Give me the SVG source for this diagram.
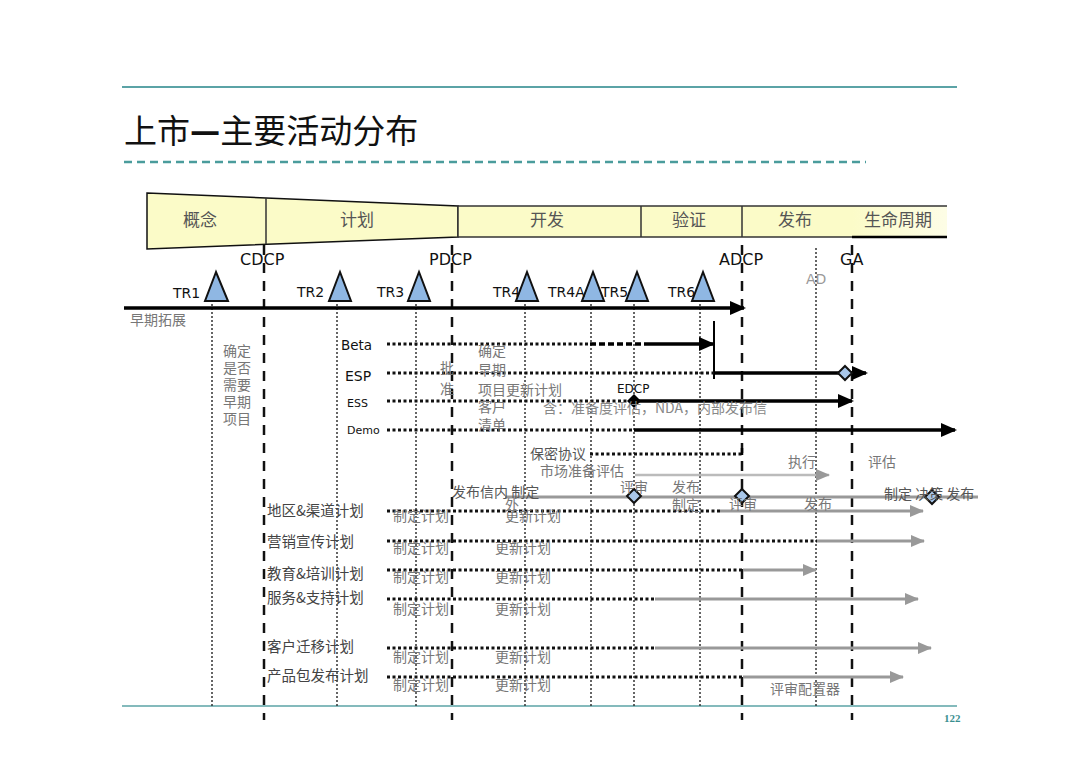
<svg xmlns="http://www.w3.org/2000/svg" width="1080" height="761" viewBox="0 0 1080 761">
<defs>
<marker id="ab" markerUnits="userSpaceOnUse" markerWidth="16" markerHeight="14" refX="14" refY="7" orient="auto"><path d="M0,0 L16,7 L0,14 z" fill="#000"/></marker>
<marker id="ag" markerUnits="userSpaceOnUse" markerWidth="14" markerHeight="12" refX="13" refY="6" orient="auto"><path d="M0,0 L14,6 L0,12 z" fill="#999"/></marker>
<linearGradient id="fade" x1="0" x2="1" y1="0" y2="0"><stop offset="0" stop-color="#fbfbc8"/><stop offset="1" stop-color="#fdfde6"/></linearGradient>
</defs>
<style>
.cn{font-family:"Noto Sans CJK SC","Liberation Serif",serif;}
.lat{font-family:"DejaVu Sans","Noto Sans",sans-serif;}
.ph{font-size:17px;fill:#555;}
.g{fill:#777;font-size:14px;}
.d{fill:#444;font-size:14.5px;}
.dot{stroke:#333;stroke-width:1.5;stroke-dasharray:2 2;fill:none;}
.dash{stroke:#111;stroke-width:2.5;stroke-dasharray:10 8;fill:none;}
.tdot{stroke:#111;stroke-width:3;stroke-dasharray:3 2.5;fill:none;}
.sol{stroke:#000;stroke-width:3.5;fill:none;}
.gl{stroke:#999;stroke-width:3;fill:none;}
.tri{fill:#8fb7e3;stroke:#111;stroke-width:2;}
.dia{fill:#a9c7ea;stroke:#111;stroke-width:2;}
</style>
<rect width="1080" height="761" fill="#fff"/>

<!-- header -->
<line x1="122" y1="87" x2="957" y2="87" stroke="#5ba3a6" stroke-width="2"/>
<text x="124" y="143" class="cn" font-size="33" fill="#111">上市<tspan font-weight="900">—</tspan>主要活动分布</text>
<line x1="124" y1="162" x2="866" y2="162" stroke="#4a9c9c" stroke-width="2.5" stroke-dasharray="8 5"/>
<line x1="122" y1="706" x2="957" y2="706" stroke="#5ba3a6" stroke-width="1.5"/>
<text x="944" y="722" font-family="Liberation Serif,serif" font-weight="bold" font-size="11" fill="#3a8f8f">122</text>

<!-- phase bar -->
<g id="phasebar">
<polygon points="147,193 458,206 458,237 147,249" fill="#fbfbc8" stroke="#111" stroke-width="1.5"/>
<rect x="458" y="206" width="394" height="31" fill="#fbfbc8"/>
<rect x="852" y="206" width="95" height="31" fill="url(#fade)"/>
<line x1="458" y1="206" x2="947" y2="206" stroke="#333" stroke-width="1.5"/>
<line x1="458" y1="237" x2="852" y2="237" stroke="#333" stroke-width="1.5"/>
<line x1="852" y1="237" x2="947" y2="237" stroke="#000" stroke-width="2.5"/>
<line x1="266" y1="198" x2="266" y2="244" stroke="#333" stroke-width="1.5"/>
<line x1="458" y1="206" x2="458" y2="237" stroke="#333" stroke-width="1.5"/>
<line x1="641" y1="206" x2="641" y2="237" stroke="#333" stroke-width="1.5"/>
<line x1="742" y1="206" x2="742" y2="237" stroke="#333" stroke-width="1.5"/>
<text x="183" y="226" class="cn ph">概念</text>
<text x="340" y="226" class="cn ph">计划</text>
<text x="530" y="226" class="cn ph">开发</text>
<text x="672" y="226" class="cn ph">验证</text>
<text x="778" y="226" class="cn ph">发布</text>
<text x="864" y="226" class="cn ph">生命周期</text>
</g>

<!-- vertical guide lines -->
<g id="guides">
<line x1="212" y1="300" x2="212" y2="706" class="dot"/>
<line x1="337" y1="300" x2="337" y2="706" class="dot"/>
<line x1="416" y1="300" x2="416" y2="706" class="dot"/>
<line x1="525" y1="300" x2="525" y2="706" class="dot"/>
<line x1="591" y1="300" x2="591" y2="706" class="dot"/>
<line x1="634" y1="300" x2="634" y2="706" class="dot"/>
<line x1="700" y1="300" x2="700" y2="706" class="dot"/>
<line x1="816" y1="248" x2="816" y2="706" class="dot"/>
<line x1="264" y1="245" x2="264" y2="720" class="dash"/>
<line x1="452" y1="245" x2="452" y2="720" class="dash"/>
<line x1="742" y1="245" x2="742" y2="720" class="dash"/>
<line x1="852" y1="245" x2="852" y2="720" class="dash"/>
</g>

<!-- milestones -->
<g id="milestones" class="lat" font-size="16" fill="#111">
<text x="240" y="265">CDCP</text>
<text x="429" y="265">PDCP</text>
<text x="719" y="265">ADCP</text>
<text x="840" y="265">GA</text>
<text x="806" y="284" font-size="14" fill="#999">AD</text>
</g>

<!-- technical reviews -->
<g id="tr" class="lat" font-size="14" fill="#111">
<polygon points="216,272 205,301 228,301" class="tri"/><text x="173" y="298">TR1</text>
<polygon points="340,272 329,301 351,301" class="tri"/><text x="297" y="297">TR2</text>
<polygon points="419,272 408,301 430,301" class="tri"/><text x="377" y="297">TR3</text>
<polygon points="527,272 516,301 538,301" class="tri"/><text x="493" y="297">TR4</text>
<polygon points="593,272 582,301 604,301" class="tri"/><text x="548" y="297">TR4A</text>
<polygon points="637,272 626,301 648,301" class="tri"/><text x="601" y="297">TR5</text>
<polygon points="703,272 692,301 714,301" class="tri"/><text x="668" y="297">TR6</text>
</g>

<!-- connectors -->
<g id="connectors">
<line x1="124" y1="308" x2="744" y2="308" class="sol" stroke-width="3" marker-end="url(#ab)"/>
<line x1="387" y1="344" x2="590" y2="344" class="tdot"/>
<line x1="590" y1="344" x2="648" y2="344" stroke="#000" stroke-width="3.5" stroke-dasharray="6 3"/>
<line x1="648" y1="344" x2="713" y2="344" class="sol" marker-end="url(#ab)"/>
<line x1="714" y1="321" x2="714" y2="379" stroke="#000" stroke-width="2"/>
<line x1="387" y1="373" x2="714" y2="373" class="tdot"/>
<line x1="714" y1="373" x2="866" y2="373" class="sol" marker-end="url(#ab)"/>
<line x1="387" y1="401" x2="634" y2="401" class="tdot"/>
<line x1="634" y1="401" x2="852" y2="401" class="sol" marker-end="url(#ab)"/>
<line x1="387" y1="430" x2="634" y2="430" class="tdot"/>
<line x1="634" y1="430" x2="955" y2="430" class="sol" marker-end="url(#ab)"/>
<line x1="590" y1="454" x2="742" y2="454" class="tdot"/>
<line x1="742" y1="448" x2="742" y2="455" stroke="#000" stroke-width="2.5"/>
<line x1="635" y1="475" x2="829" y2="475" stroke="#bbb" stroke-width="2.5" marker-end="url(#ag)"/>
<line x1="505" y1="497" x2="978" y2="497" class="gl" stroke="#a0a0a0"/>
<line x1="387" y1="511" x2="720" y2="511" class="tdot"/>
<line x1="720" y1="511" x2="923" y2="511" class="gl" marker-end="url(#ag)"/>
<line x1="387" y1="541" x2="817" y2="541" class="tdot"/>
<line x1="817" y1="541" x2="924" y2="541" class="gl" marker-end="url(#ag)"/>
<line x1="387" y1="570" x2="743" y2="570" class="tdot"/>
<line x1="743" y1="570" x2="816" y2="570" class="gl" marker-end="url(#ag)"/>
<line x1="387" y1="599" x2="655" y2="599" class="tdot"/>
<line x1="655" y1="599" x2="918" y2="599" class="gl" marker-end="url(#ag)"/>
<line x1="387" y1="648" x2="655" y2="648" class="tdot"/>
<line x1="655" y1="648" x2="931" y2="648" class="gl" marker-end="url(#ag)"/>
<line x1="387" y1="677" x2="743" y2="677" class="tdot"/>
<line x1="743" y1="677" x2="903" y2="677" class="gl" marker-end="url(#ag)"/>
</g>

<!-- diamonds -->
<g id="diamonds">
<polygon points="845,366 852,373 845,380 838,373" class="dia"/>
<polygon points="634,394 641,401 634,408 627,401" fill="#000"/>
<polygon points="634,489 641,496 634,503 627,496" class="dia"/>
<polygon points="742,489 749,496 742,503 735,496" class="dia"/>
<polygon points="932,490 939,497 932,504 925,497" class="dia"/>
</g>

<!-- texts -->
<g id="labels">
<text x="130" y="325" class="cn g">早期拓展</text>
<g class="cn g" font-size="14">
<text x="223" y="356">确定</text>
<text x="223" y="373">是否</text>
<text x="223" y="390">需要</text>
<text x="223" y="407">早期</text>
<text x="223" y="424">项目</text>
</g>
<g class="lat" fill="#111">
<text x="341" y="350" font-size="13.5">Beta</text>
<text x="345" y="381" font-size="14">ESP</text>
<text x="347" y="407" font-size="11">ESS</text>
<text x="347" y="434" font-size="11">Demo</text>
<text x="617" y="393" font-size="12">EDCP</text>
</g>
<g class="cn g">
<text x="440" y="373">批</text>
<text x="440" y="394">准</text>
<text x="478" y="356">确定</text>
<text x="478" y="375">早期</text>
<text x="478" y="395">项目更新计划</text>
<text x="478" y="412">客户</text>
<text x="478" y="430">清单</text>
<text x="543" y="413" fill="#888">含：准备度评估，NDA，内部发布信</text>
<text x="530" y="459" fill="#555">保密协议</text>
<text x="540" y="476">市场准备评估</text>
<text x="788" y="467">执行</text>
<text x="868" y="467">评估</text>
<text x="452" y="497" fill="#555">发布信内 制定</text>
<text x="505" y="510">外</text>
<text x="620" y="492">评审</text>
<text x="672" y="492">发布</text>
<text x="672" y="510">制定</text>
<text x="729" y="509">评审</text>
<text x="804" y="509">发布</text>
<text x="884" y="499" fill="#555">制定 决策 发布</text>
</g>
<g class="cn d">
<text x="267" y="516">地区&amp;渠道计划</text>
<text x="267" y="547">营销宣传计划</text>
<text x="267" y="579">教育&amp;培训计划</text>
<text x="267" y="603">服务&amp;支持计划</text>
<text x="267" y="652">客户迁移计划</text>
<text x="267" y="681">产品包发布计划</text>
</g>
<g class="cn g">
<text x="393" y="521">制定计划</text><text x="505" y="521">更新计划</text>
<text x="393" y="553">制定计划</text><text x="495" y="553">更新计划</text>
<text x="393" y="582">制定计划</text><text x="495" y="582">更新计划</text>
<text x="393" y="614">制定计划</text><text x="495" y="614">更新计划</text>
<text x="393" y="662">制定计划</text><text x="495" y="662">更新计划</text>
<text x="393" y="690">制定计划</text><text x="495" y="690">更新计划</text>
<text x="770" y="694">评审配置器</text>
</g>
</g>
</svg>
